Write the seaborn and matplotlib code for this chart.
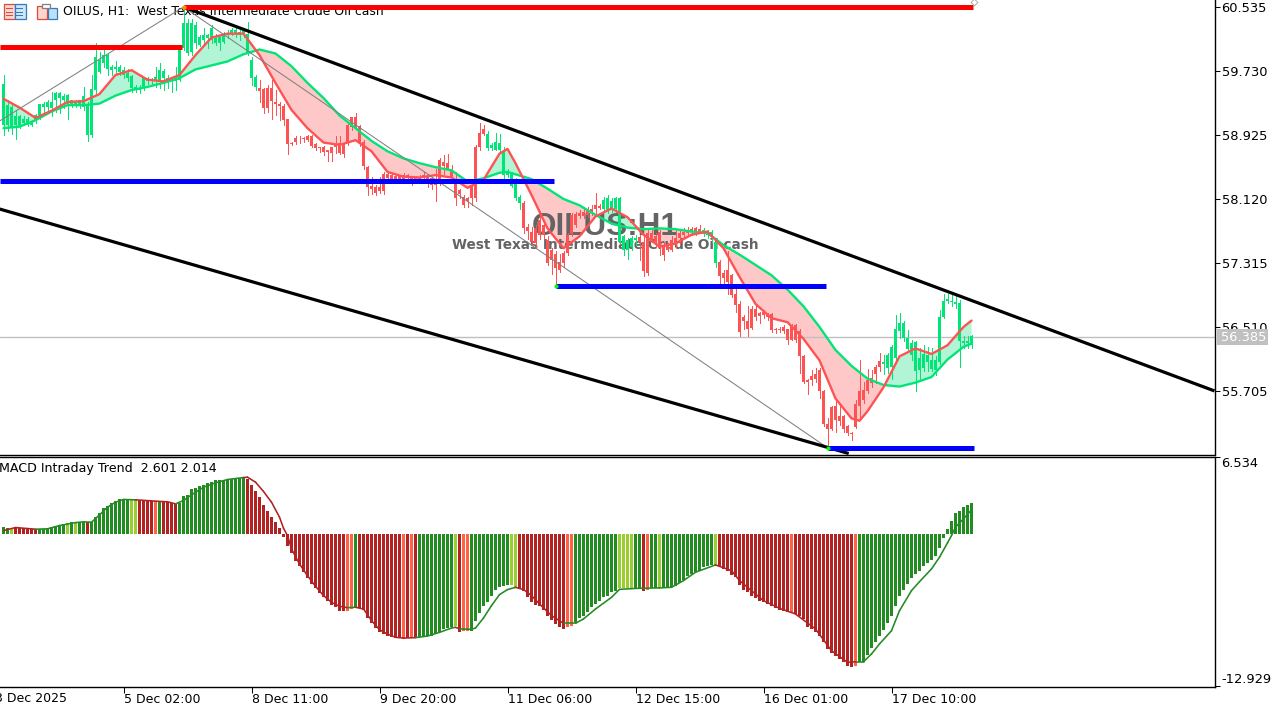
import pandas as pd
import matplotlib
matplotlib.use('Agg')
import matplotlib.pyplot as plt
import seaborn as sns
from matplotlib.patches import Rectangle

# candles, one value per H1 bar (price)
candle_high = [
    59.68,59.37,59.30,59.24,59.18,59.16,59.15,59.10,59.19,59.32,
    59.34,59.36,59.46,59.47,59.47,59.44,59.44,59.37,59.37,59.37,
    59.53,59.34,59.68,60.08,59.97,60.00,59.95,59.80,59.85,59.80,
    59.78,59.76,59.68,59.55,59.55,59.66,59.66,59.64,59.78,59.83,
    59.76,59.68,59.64,59.78,60.02,60.53,60.39,60.39,60.35,60.18,
    60.27,60.20,60.31,60.20,60.18,60.22,60.25,60.27,60.27,60.27,
    60.27,60.35,59.91,59.68,59.62,59.51,59.55,59.62,59.49,59.34,
    59.32,59.13,58.84,58.91,58.91,58.90,58.92,58.92,58.83,58.78,
    58.79,58.74,58.78,58.91,58.91,58.83,59.07,59.15,59.20,59.05,
    58.86,58.53,58.40,58.30,58.40,58.46,58.46,58.43,58.42,58.42,
    58.45,58.43,58.39,58.41,58.42,58.46,58.44,58.40,58.50,58.64,
    58.67,58.69,58.55,58.46,58.25,58.17,58.15,58.36,58.80,59.07,
    59.05,58.97,58.82,58.95,58.94,58.78,58.50,58.46,58.38,58.17,
    58.09,57.81,57.77,57.79,57.90,57.81,57.66,57.50,57.46,57.43,
    57.46,57.69,57.94,57.96,57.98,58.00,58.02,58.05,58.19,58.06,
    58.15,58.17,58.13,58.15,58.15,57.67,57.63,57.65,57.67,57.67,
    57.65,57.73,57.73,57.69,57.73,57.58,57.56,57.65,57.73,57.73,
    57.75,57.77,57.77,57.77,57.79,57.75,57.73,57.73,57.62,57.35,
    57.23,57.46,57.18,56.99,56.84,56.66,56.77,56.77,56.77,56.70,
    56.72,56.68,56.68,56.50,56.51,56.53,56.49,56.55,56.55,56.48,
    56.16,55.85,55.97,55.99,55.99,55.72,55.36,55.52,55.61,55.51,
    55.40,55.28,55.19,55.59,56.10,55.82,55.98,55.97,56.03,56.18,
    56.16,56.18,56.28,56.66,56.68,56.58,56.47,56.35,56.33,56.24,
    56.28,56.26,56.24,56.15,56.72,56.93,56.93,56.95,56.93,56.85,
    56.39,56.39,56.41]
body_top = [
    59.57,59.30,59.28,59.16,59.16,59.13,59.13,59.09,59.18,59.31,
    59.32,59.34,59.34,59.45,59.45,59.42,59.43,59.36,59.34,59.36,
    59.41,59.32,59.50,59.91,59.87,59.93,59.93,59.78,59.78,59.78,
    59.74,59.70,59.67,59.53,59.52,59.64,59.64,59.62,59.66,59.74,
    59.73,59.64,59.62,59.64,60.00,60.33,60.33,60.33,60.31,60.16,
    60.18,60.18,60.27,60.14,60.16,60.18,60.20,60.25,60.25,60.22,
    60.25,60.20,59.87,59.66,59.52,59.50,59.51,59.51,59.34,59.32,
    59.29,59.12,58.83,58.89,58.88,58.89,58.91,58.91,58.81,58.77,
    58.77,58.73,58.77,58.81,58.83,58.81,59.05,59.15,59.15,59.04,
    58.84,58.52,58.28,58.27,58.27,58.43,58.44,58.42,58.41,58.41,
    58.42,58.42,58.38,58.39,58.40,58.42,58.40,58.38,58.36,58.61,
    58.59,58.57,58.48,58.32,58.23,58.15,58.13,58.30,58.78,58.95,
    59.00,58.94,58.80,58.84,58.83,58.71,58.46,58.44,58.31,58.15,
    58.07,57.77,57.71,57.75,57.85,57.79,57.60,57.48,57.43,57.33,
    57.44,57.67,57.92,57.93,57.94,57.96,57.98,58.00,58.04,58.03,
    58.11,58.13,58.10,58.13,58.13,57.65,57.60,57.63,57.63,57.64,
    57.58,57.69,57.69,57.65,57.71,57.54,57.54,57.60,57.63,57.69,
    57.71,57.73,57.74,57.75,57.74,57.73,57.71,57.70,57.58,57.33,
    57.19,57.23,57.16,56.93,56.80,56.64,56.58,56.74,56.74,56.68,
    56.70,56.66,56.67,56.49,56.49,56.51,56.48,56.53,56.53,56.46,
    56.14,55.84,55.89,55.92,55.97,55.71,55.29,55.50,55.51,55.39,
    55.39,55.26,55.18,55.54,55.70,55.72,55.84,55.87,56.01,56.08,
    56.07,56.16,56.26,56.48,56.56,56.56,56.37,56.31,56.32,56.12,
    56.17,56.16,56.09,56.10,56.64,56.84,56.86,56.84,56.83,56.81,
    56.33,56.33,56.39]
body_bottom = [
    59.05,59.05,59.01,59.05,59.03,59.07,59.05,59.05,59.11,59.18,
    59.28,59.28,59.26,59.37,59.39,59.37,59.32,59.30,59.30,59.29,
    59.28,58.92,58.92,59.49,59.72,59.83,59.75,59.74,59.75,59.72,
    59.68,59.64,59.51,59.50,59.49,59.51,59.60,59.60,59.60,59.62,
    59.64,59.60,59.60,59.60,59.62,60.02,59.95,59.97,60.08,60.06,
    60.12,60.14,60.12,60.08,60.08,60.10,60.18,60.20,60.20,60.18,
    60.20,59.95,59.64,59.53,59.48,59.26,59.26,59.35,59.32,59.29,
    59.11,58.81,58.81,58.84,58.87,58.87,58.86,58.79,58.76,58.76,
    58.71,58.71,58.70,58.77,58.70,58.69,58.82,59.03,59.03,58.82,
    58.53,58.27,58.24,58.19,58.22,58.22,58.38,58.36,58.37,58.37,
    58.36,58.38,58.37,58.36,58.37,58.38,58.34,58.30,58.30,58.32,
    58.53,58.50,58.40,58.13,58.18,58.04,58.09,58.13,58.13,58.78,
    58.94,58.76,58.76,58.74,58.74,58.42,58.42,58.28,58.13,58.07,
    57.75,57.72,57.58,57.56,57.67,57.67,57.32,57.35,57.25,57.23,
    57.31,57.44,57.68,57.79,57.90,57.90,57.92,57.94,57.99,58.01,
    58.00,57.98,58.00,58.00,57.58,57.48,57.48,57.52,57.60,57.58,
    57.22,57.19,57.60,57.58,57.50,57.41,57.48,57.48,57.54,57.63,
    57.67,57.69,57.71,57.71,57.71,57.71,57.67,57.65,57.31,57.15,
    57.12,57.08,56.91,56.79,56.45,56.58,56.49,56.50,56.64,56.65,
    56.66,56.64,56.47,56.47,56.47,56.46,56.34,56.35,56.35,56.14,
    55.82,55.82,55.84,55.86,55.71,55.29,55.23,55.23,55.34,55.33,
    55.22,55.17,55.16,55.25,55.51,55.59,55.70,55.80,55.92,56.01,
    56.04,55.99,56.00,56.12,56.46,56.37,56.23,56.16,55.96,55.97,
    55.99,56.07,55.98,55.97,56.07,56.64,56.84,56.82,56.80,56.33,
    56.31,56.31,56.28]
candle_low = [
    58.92,58.97,58.94,58.88,59.01,59.05,59.04,59.04,59.07,59.13,
    59.22,59.24,59.16,59.22,59.20,59.26,59.13,59.28,59.28,59.26,
    59.24,58.85,58.90,59.45,59.70,59.78,59.68,59.68,59.70,59.68,
    59.64,59.60,59.47,59.47,59.45,59.49,59.57,59.55,59.53,59.51,
    59.49,59.51,59.47,59.49,59.60,60.00,59.93,59.93,60.02,60.04,
    60.08,60.02,60.08,60.06,60.00,60.08,60.14,60.18,60.16,60.12,
    60.16,59.93,59.55,59.49,59.34,59.20,59.22,59.13,59.18,59.11,
    59.05,58.69,58.80,58.81,58.83,58.84,58.85,58.77,58.74,58.71,
    58.67,58.60,58.60,58.70,58.69,58.65,58.80,58.99,59.00,58.79,
    58.50,58.17,58.18,58.17,58.19,58.18,58.36,58.34,58.34,58.35,
    58.34,58.34,58.30,58.33,58.34,58.34,58.27,58.25,58.09,58.30,
    58.44,58.48,58.36,58.04,58.13,58.02,58.02,58.04,58.09,58.74,
    58.92,58.74,58.74,58.73,58.72,58.38,58.40,58.27,58.11,58.00,
    57.69,57.62,57.54,57.52,57.62,57.62,57.29,57.18,57.03,57.20,
    57.27,57.41,57.65,57.77,57.88,57.88,57.89,57.92,57.94,58.00,
    57.98,57.94,57.96,57.96,57.56,57.41,57.37,57.48,57.54,57.35,
    57.15,57.16,57.58,57.52,57.41,57.35,57.46,57.46,57.52,57.54,
    57.63,57.65,57.67,57.67,57.69,57.65,57.63,57.58,57.26,57.05,
    57.00,56.93,56.89,56.70,56.39,56.49,56.39,56.49,56.60,56.56,
    56.62,56.60,56.45,56.44,56.45,56.44,56.30,56.34,56.32,55.93,
    55.80,55.67,55.78,55.82,55.61,55.26,55.03,55.21,55.19,55.28,
    55.19,55.15,55.09,55.24,55.34,55.55,55.68,55.76,55.80,55.95,
    55.92,55.93,55.85,56.07,56.37,56.33,56.20,56.10,55.70,55.84,
    55.95,55.95,55.95,55.90,56.05,56.62,56.81,56.77,56.75,56.01,
    56.24,56.24,56.24]
# candle colour follows the trend, not open/close: (code, number of bars)
candle_runs = [('g',64),('r',57),('g',9),('r',20),('g',9),('r',16),('g',4),('r',41),('g',23)]

ma_bars = [0,4,8,12,16,20,24,28,32,36,40,44,48,52,56,60,64,68,72,76,80,84,88,92,96,100,
           104,108,112,116,120,124,126,128,132,136,140,144,148,152,156,160,164,168,172,176,
           180,184,188,192,196,200,204,208,212,214,216,220,224,228,232,236,240,242]
ma_fast = [59.38,59.27,59.14,59.23,59.34,59.35,59.44,59.68,59.74,59.62,59.60,59.68,59.93,60.15,60.20,60.20,
           59.93,59.58,59.24,59.01,58.83,58.80,58.86,58.72,58.46,58.40,
           58.39,58.42,58.39,58.26,58.36,58.69,58.75,58.57,58.17,57.75,57.50,57.65,57.90,58.00,57.89,57.67,
           57.52,57.56,57.67,57.71,57.50,57.14,56.80,56.62,56.57,56.36,56.09,55.61,55.36,55.33,55.45,55.75,
           56.14,56.24,56.17,56.28,56.51,56.59]
ma_slow = [59.01,59.03,59.11,59.22,59.30,59.30,59.32,59.42,59.49,59.53,59.58,59.64,59.75,59.80,59.85,59.94,
           60.00,59.95,59.79,59.58,59.39,59.17,59.01,58.85,58.72,58.63,
           58.57,58.52,58.48,58.34,58.38,58.45,58.46,58.43,58.37,58.25,58.12,58.04,57.92,57.81,57.76,57.74,
           57.75,57.74,57.71,57.69,57.54,57.42,57.29,57.16,56.98,56.77,56.51,56.22,56.02,55.94,55.86,55.78,
           55.76,55.81,55.88,56.10,56.26,56.30]

# MACD histogram, one value per bar
macd_hist = [
    .59,.51,.51,.51,.48,.48,.42,.40,.37,.37,
    .37,.45,.54,.62,.74,.82,.88,.96,.99,1.02,
    1.02,.96,1.02,1.39,1.75,2.15,2.32,2.58,2.72,2.89,
    2.94,2.94,2.83,2.83,2.83,2.77,2.77,2.72,2.72,2.75,
    2.69,2.66,2.60,2.49,2.58,3.17,3.31,3.79,3.88,4.02,
    4.08,4.25,4.36,4.50,4.58,4.58,4.61,4.64,4.73,4.75,
    4.78,4.64,4.13,3.57,3.08,2.38,1.95,1.44,.96,.45,
    -.25,-1.02,-1.67,-2.29,-2.75,-3.28,-3.76,-4.25,-4.64,-5.01,
    -5.41,-5.74,-6.06,-6.25,-6.54,-6.59,-6.54,-6.40,-6.25,-6.34,
    -6.45,-7.16,-7.58,-8.04,-8.38,-8.55,-8.66,-8.80,-8.89,-8.89,
    -8.94,-8.89,-8.89,-8.89,-8.74,-8.72,-8.66,-8.66,-8.55,-8.32,
    -8.09,-7.98,-7.90,-7.87,-8.38,-8.26,-8.26,-8.24,-7.44,-6.76,
    -6.17,-5.77,-5.26,-4.78,-4.50,-4.41,-4.33,-4.36,-4.50,-4.58,
    -4.84,-5.41,-5.83,-6.03,-6.11,-6.45,-6.96,-7.30,-7.67,-7.95,
    -8.12,-7.95,-7.81,-7.53,-7.19,-6.96,-6.68,-6.25,-5.97,-5.74,
    -5.41,-5.26,-4.98,-4.84,-4.58,-4.58,-4.58,-4.58,-4.64,-4.61,
    -4.90,-4.81,-4.64,-4.64,-4.58,-4.64,-4.56,-4.56,-4.41,-4.19,
    -3.91,-3.62,-3.42,-3.28,-3.14,-2.86,-2.77,-2.66,-2.66,-2.77,
    -3.00,-3.14,-3.51,-3.71,-4.36,-4.75,-4.92,-5.26,-5.49,-5.69,
    -5.83,-5.97,-6.17,-6.34,-6.48,-6.54,-6.68,-6.68,-6.82,-7.02,
    -7.24,-7.90,-8.09,-8.38,-8.66,-9.23,-9.79,-10.13,-10.36,-10.64,
    -10.92,-11.21,-11.35,-11.21,-10.92,-10.87,-10.30,-9.74,-9.23,-8.72,
    -8.15,-7.61,-6.96,-6.17,-5.32,-4.75,-4.25,-3.79,-3.42,-3.20,
    -2.77,-2.49,-2.21,-1.92,-1.25,-.40,.42,1.10,1.78,1.95,
    2.24,2.38,2.60]
macd_runs = [('g',2),('y',1),('r',6),('g',7),('y',1),('g',1),('y',1),('g',2),('r',1),('g',10),
             ('y',2),('r',4),('c',1),('g',1),('r',4),('g',17),('r',25),('c',2),('g',1),('r',11),
             ('c',1),('r',1),('c',1),('r',1),('g',9),('y',1),('r',1),('c',2),('g',10),('y',2),
             ('r',12),('c',2),('g',11),('y',4),('g',2),('r',1),('c',1),('g',2),('y',1),('g',13),
             ('y',1),('r',18),('c',1),('r',15),('c',1),('g',29)]

sig_bars = [0,3,8,11,14,18,20,22,24,26,28,30,33,37,41,43,45,47,50,53,56,60,61,63,65,67,69,70,71,72,74,76,78,
            80,82,84,86,88,90,92,94,96,98,100,103,106,109,112,113,114,117,118,120,122,124,126,128,130,132,
            134,137,140,143,145,148,152,154,159,164,167,170,173,178,182,184,187,190,194,198,203,207,211,
            213,215,217,219,222,224,227,229,232,234,236,237,238,240,242]
sig_vals = [.25,.51,.37,.40,.68,.93,.99,.96,1.58,2.24,2.66,2.89,2.86,2.77,2.69,2.52,2.80,3.28,3.93,4.30,4.58,
            4.75,4.78,4.36,3.57,2.66,1.39,.45,-.17,-1.30,-2.58,-3.57,-4.47,-5.26,-5.83,-6.17,-6.28,-6.25,-6.40,
            -7.38,-8.15,-8.52,-8.80,-8.86,-8.83,-8.69,-8.38,-8.01,-7.95,-8.09,-8.12,-8.01,-7.16,-6.11,-5.18,
            -4.75,-4.56,-4.75,-5.26,-5.97,-6.96,-7.61,-7.61,-7.24,-6.40,-5.41,-4.73,-4.64,-4.61,-4.56,-3.99,
            -3.28,-2.66,-3.14,-3.99,-4.84,-5.69,-6.34,-6.82,-8.09,-9.93,-10.92,-10.87,-10.87,-10.21,-9.36,
            -8.24,-6.54,-4.84,-4.08,-3.00,-2.01,-.79,-.17,.54,1.25,2.01]

# chart objects
level_prices = [60.535, 60.028, 58.34, 57.02, 54.99]
level_colors = ['#FF0000', '#FF0000', '#0000FF', '#0000FF', '#0000FF']
level_starts = [45, -1, -1, 138, 206]
level_ends = [242.4, 44.5, 137.5, 205.5, 242.5]
channel_bars = [[45, 302.75], [-1, 211.3]]
channel_prices = [[60.535, 55.705], [57.994, 54.918]]
zigzag_bars = [-1, 45, 206]
zigzag_prices = [59.10, 60.535, 54.99]
last_price = 56.385

price_ticks = [60.535, 59.730, 58.925, 58.120, 57.315, 56.510, 55.705]
macd_ticks = [6.534, -12.929]
time_ticks = [30, 62, 94, 126, 158, 190, 222]
time_labels = ['5 Dec 02:00', '8 Dec 11:00', '9 Dec 20:00', '11 Dec 06:00',
               '12 Dec 15:00', '16 Dec 01:00', '17 Dec 10:00']
first_time_label = '3 Dec 2025'

W, H = 1282, 711
UP = '#00E676'
DOWN = '#FF5252'
macd_palette = {'g': '#228B22', 'y': '#9ACD32', 'r': '#B22222', 'c': '#FF6347'}

sns.set_theme(style='white')
plt.rcParams['font.family'] = ['DejaVu Sans']

bars = list(range(len(candle_high)))
candle_codes = ''.join(c * n for c, n in candle_runs)
macd_codes = ''.join(c * n for c, n in macd_runs)
candle_colors = [UP if c == 'g' else DOWN for c in candle_codes]

fig = plt.figure(figsize=(W / 100, H / 100), dpi=100, facecolor='white')
ax = fig.add_axes([0, 1 - 454.5 / H, 1214.5 / W, 454.5 / H])
ax2 = fig.add_axes([0, 1 - 686.5 / H, 1214.5 / W, 230 / H])
xlim = (-0.875, 302.75)
fig_text = dict(transform=fig.transFigure, clip_on=False)

# price panel
fast = pd.Series(ma_fast)
slow = pd.Series(ma_slow)
ax.fill_between(ma_bars, fast, slow, where=fast >= slow, interpolate=True, color='#B2F5D6', lw=0, zorder=1)
ax.fill_between(ma_bars, fast, slow, where=fast <= slow, interpolate=True, color='#FFC8C8', lw=0, zorder=1)
ax.axhline(last_price, color='#C0C0C0', lw=1, zorder=1.2)

ax.text(605 / W, 1 - 227 / H, 'OILUS:H1', ha='center', va='center', color='#646464', fontsize=22.7,
        fontweight='bold', family='Liberation Sans', zorder=1.5, **fig_text)
ax.text(605.5 / W, 1 - 245 / H, 'West Texas Intermediate Crude Oil cash', ha='center', va='center', color='#646464',
        fontsize=9.8, fontweight='bold', zorder=1.5, **fig_text)

ax.vlines(bars, candle_low, candle_high, colors=candle_colors, lw=0.72, zorder=2, antialiased=False)
ax.bar(bars, [t - b for t, b in zip(body_top, body_bottom)], bottom=body_bottom, width=0.75,
       color=candle_colors, lw=0, zorder=2, antialiased=False)

sns.lineplot(x=ma_bars, y=ma_slow, ax=ax, color=UP, lw=1.7, sort=False, estimator=None, zorder=3)
sns.lineplot(x=ma_bars, y=ma_fast, ax=ax, color=DOWN, lw=1.7, sort=False, estimator=None, zorder=3.1)

ax.text(63 / W, 1 - 12 / H, 'OILUS, H1:  West Texas Intermediate Crude Oil cash', va='center', ha='left',
        color='#000000', fontsize=8.95, zorder=3.2, **fig_text)

ax.plot(zigzag_bars, zigzag_prices, color='#808080', lw=0.75, zorder=3.5)
for cb, cp in zip(channel_bars, channel_prices):
    ax.plot(cb, cp, color='black', lw=2.3, zorder=4, solid_capstyle='butt')
for p, c, a, b in zip(level_prices, level_colors, level_starts, level_ends):
    ax.plot([a, b], [p, p], color=c, lw=3.6, zorder=4.1, solid_capstyle='butt')
ax.scatter([138, 206], [57.02, 54.99], s=9, color='#00FF00', lw=0, zorder=4.2)
ax.scatter([45], [60.535], s=9, color='#FF9000', lw=0, zorder=4.2)
ax.scatter([242.5], [60.60], s=12, marker='D', color='white', edgecolor='#A0A0A0', lw=0.6, zorder=4.2)

ax.set_xticks([])
ax.set_xlim(xlim)
ax.set_ylim(60.623 - 454.5 * 0.01258, 60.623)
ax.yaxis.tick_right()
ax.set_yticks(price_ticks)
ax.set_yticklabels([f'{t:.3f}' for t in price_ticks])

# MACD panel
macd_df = pd.DataFrame({'bar': bars, 'value': macd_hist, 'code': list(macd_codes)})
sns.barplot(data=macd_df, x='bar', y='value', hue='code', palette=macd_palette, native_scale=True,
            dodge=False, width=0.75, errorbar=None, legend=False, linewidth=0, saturation=1,
            antialiased=False, ax=ax2, zorder=2)
for k in range(len(sig_bars) - 1):
    code = macd_codes[sig_bars[k + 1]]
    ax2.plot(sig_bars[k:k + 2], sig_vals[k:k + 2], lw=1.15, zorder=3, solid_capstyle='round',
             color='#228B22' if code in 'gy' else '#B22222')
ax2.set_xlabel('')
ax2.set_ylabel('')
ax2.yaxis.tick_right()
ax2.set_yticks(macd_ticks)
ax2.set_yticklabels([f'{t:.3f}' for t in macd_ticks])
ax2.get_yticklabels()[0].set_va('top')
ax2.get_yticklabels()[1].set_va('bottom')
ax2.set_xticks(time_ticks)
ax2.set_xticklabels(time_labels, ha='left')
ax2.set_xlim(xlim)
ax2.set_ylim(-12.97, 6.534)
ax2.text(-1 / W, 1 - 468.5 / H, 'MACD Intraday Trend  2.601 2.014', va='center', ha='left', color='black',
         fontsize=9.05, zorder=5, **fig_text)
fig.text(-5 / W, 1 - 699 / H, first_time_label, va='center', ha='left', color='black', fontsize=9)

for a in (ax, ax2):
    sns.despine(ax=a, left=True, top=a is ax, right=False, bottom=False)
    for s in a.spines.values():
        s.set_color('black')
        s.set_linewidth(1)
    a.set_facecolor('white')
    a.tick_params(axis='y', which='both', right=True, length=3.6, width=0.75, color='black', pad=1.5,
                  labelsize=9.4, labelcolor='#000000')
ax2.tick_params(axis='x', bottom=True, length=4.3, width=0.75, color='black', pad=0.5, labelsize=9,
                labelcolor='#000000')
for lab in ax2.get_xticklabels():
    lab.set_ha('left')


def px_rect(x0, y0, x1, y1, **kw):
    fig.add_artist(Rectangle((x0 / W, 1 - y1 / H), (x1 - x0) / W, (y1 - y0) / H, transform=fig.transFigure,
                             zorder=6, **kw))


# last price box
px_rect(1217, 329, 1268, 345, fc='#C0C0C0', ec='none')
fig.text(1221 / W, 1 - 337 / H, f'{last_price:.3f}', color='white', va='center', ha='left', fontsize=9.4, zorder=7)

# toolbar icons
px_rect(3.5, 4.5, 14.5, 18.5, fc='#FBD5CF', ec='#E04A3C', lw=0.9)
px_rect(14.5, 4.5, 25.5, 18.5, fc='#CDE6F7', ec='#2F7CC0', lw=0.9)
for y in (8, 11.5, 15):
    px_rect(6, y, 13, y + 1, fc='#E04A3C', ec='none')
    px_rect(16, y, 23, y + 1, fc='#2F7CC0', ec='none')
px_rect(36.5, 5.5, 47, 18.5, fc='#FBD5CF', ec='#E04A3C', lw=0.9)
px_rect(48, 8.5, 57, 18.5, fc='#BFE0F7', ec='#2F7CC0', lw=0.9)
px_rect(42, 4, 50, 8, fc='white', ec='#808080', lw=0.9)

fig.savefig('out.png', dpi=100)
